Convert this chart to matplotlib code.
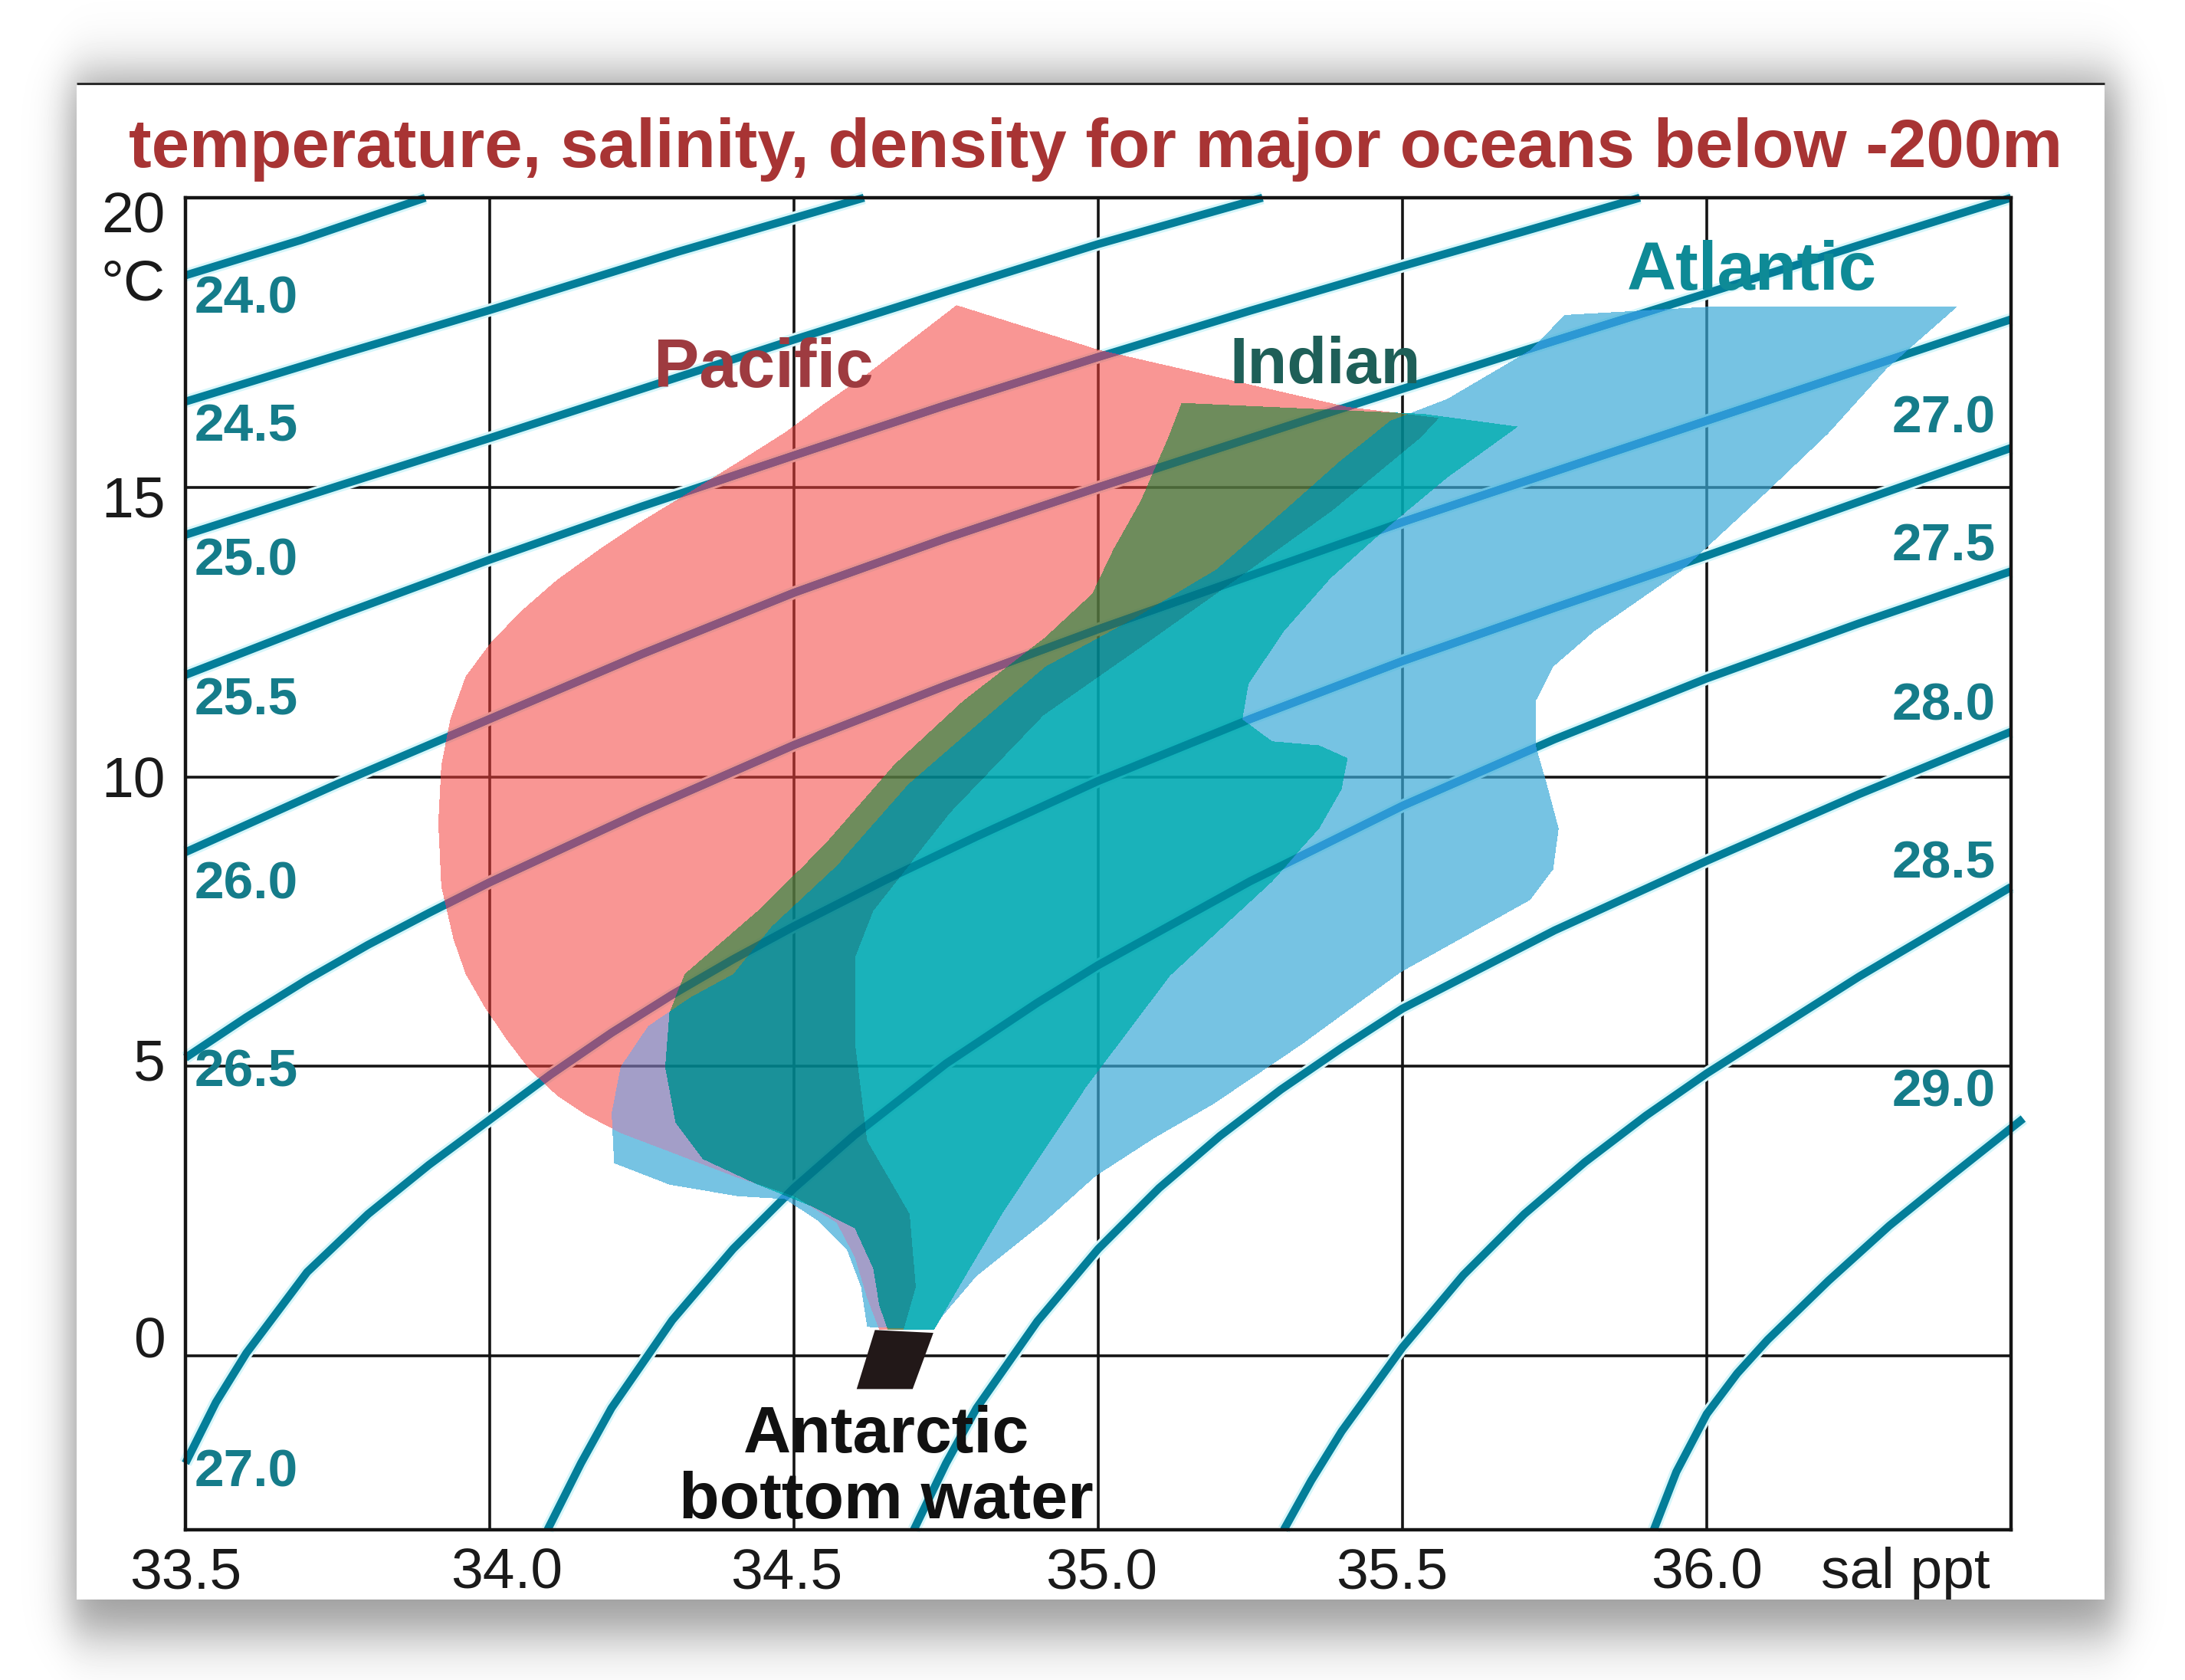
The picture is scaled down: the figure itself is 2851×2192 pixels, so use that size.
import numpy as np
import matplotlib
matplotlib.use('Agg')
import matplotlib.pyplot as plt
from matplotlib.path import Path
from matplotlib.patches import Rectangle, Polygon
import matplotlib.patheffects as pe

plt.rcParams['font.family'] = ['Liberation Sans', 'DejaVu Sans']

# ---------------- data ----------------
sal_ticks = [33.5, 34.0, 34.5, 35.0, 35.5, 36.0]
sal_labels = ['33.5', '34.0', '34.5', '35.0', '35.5', '36.0']
temp_ticks = [0, 5, 10, 15, 20]
temp_labels = ['0', '5', '10', '15', '20']

# isopycnals (sigma-t): salinity / temperature along each curve
s_240 = [33.5, 33.69, 33.894]
t_240 = [18.66, 19.27, 20.0]
s_245 = [33.5, 33.75, 34.0, 34.307, 34.615]
t_245 = [16.48, 17.28, 18.06, 19.06, 20.0]
s_250 = [33.5, 33.75, 34.0, 34.25, 34.5, 34.75, 35.0, 35.27]
t_250 = [14.18, 15.02, 15.85, 16.7, 17.55, 18.38, 19.2, 20.0]
s_255 = [33.5, 33.75, 34.0, 34.25, 34.5, 34.75, 35.0, 35.25, 35.5, 35.7, 35.89]
t_255 = [11.76, 12.78, 13.75, 14.67, 15.55, 16.42, 17.25, 18.05, 18.82, 19.42, 20.0]
s_260 = [33.5, 33.75, 34.0, 34.25, 34.5, 34.75, 35.0, 35.25, 35.5, 35.75, 36.0, 36.25, 36.5]
t_260 = [8.7, 9.88, 11.0, 12.12, 13.18, 14.12, 15.0, 15.85, 16.7, 17.53, 18.35, 19.18, 20.0]
s_265 = [33.5, 33.6, 33.7, 33.8, 33.9, 34.0, 34.25, 34.5, 34.75, 35.0, 35.5, 36.0, 36.5]
t_265 = [5.15, 5.85, 6.5, 7.1, 7.65, 8.18, 9.4, 10.55, 11.58, 12.55, 14.4, 16.15, 17.9]
s_270 = [33.5, 33.55, 33.6, 33.7, 33.8, 33.9, 34.0, 34.1, 34.2, 34.3, 34.4,
         34.5, 34.65, 34.8, 35.0, 35.25, 35.5, 35.75, 36.0, 36.25, 36.5]
t_270 = [-1.85, -0.8, 0.05, 1.45, 2.45, 3.3, 4.08, 4.86, 5.58, 6.24, 6.85,
         7.42, 8.22, 8.97, 9.93, 11.0, 12.0, 12.92, 13.82, 14.75, 15.68]
s_275 = [34.095, 34.15, 34.2, 34.3, 34.4, 34.5, 34.6, 34.75, 34.9, 35.0,
         35.25, 35.5, 35.75, 36.0, 36.25, 36.5]
t_275 = [-3.0, -1.85, -0.9, 0.62, 1.85, 2.9, 3.82, 5.05, 6.1, 6.75,
         8.2, 9.5, 10.65, 11.7, 12.65, 13.55]
s_280 = [34.697, 34.75, 34.8, 34.9, 35.0, 35.1, 35.2, 35.3, 35.4, 35.5, 35.75, 36.0, 36.25, 36.5]
t_280 = [-3.0, -1.85, -0.9, 0.6, 1.85, 2.9, 3.8, 4.6, 5.32, 6.0, 7.35, 8.55, 9.7, 10.78]
s_285 = [35.305, 35.35, 35.4, 35.5, 35.6, 35.7, 35.8, 35.9, 36.0, 36.25, 36.5]
t_285 = [-3.0, -2.15, -1.3, 0.15, 1.4, 2.45, 3.35, 4.15, 4.88, 6.55, 8.1]
s_290 = [35.913, 35.95, 36.0, 36.05, 36.1, 36.2, 36.3, 36.4, 36.52]
t_290 = [-3.0, -2.0, -1.0, -0.3, 0.28, 1.3, 2.25, 3.1, 4.1]

left_sigma = ['24.0', '24.5', '25.0', '25.5', '26.0', '26.5', '27.0']
left_sigma_t = [18.24, 16.03, 13.72, 11.31, 8.14, 4.89, -2.01]
right_sigma = ['27.0', '27.5', '28.0', '28.5', '29.0']
right_sigma_t = [16.18, 13.97, 11.22, 8.5, 4.55]

# water-mass envelopes (salinity, temperature)
pacific_s = [34.767, 35.0, 35.41, 35.56, 35.53, 35.385, 35.25, 35.08, 34.91, 34.756,
             34.63, 34.6, 34.6, 34.62, 34.69, 34.70, 34.68, 34.64, 34.62, 34.6,
             34.57, 34.5, 34.407, 34.295, 34.215, 34.157, 34.11, 34.065, 34.025, 33.99,
             33.96, 33.94, 33.92, 33.915, 33.92, 33.935, 33.96, 34.0, 34.05, 34.11,
             34.18, 34.25, 34.33, 34.41, 34.485, 34.55, 34.62]
pacific_t = [18.15, 17.38, 16.39, 16.2, 15.86, 14.6, 13.58, 12.31, 11.06, 9.37,
             7.69, 6.88, 5.42, 3.72, 2.45, 1.19, 0.45, 0.45, 1.0, 1.7,
             2.3, 2.76, 3.08, 3.53, 3.85, 4.17, 4.5, 4.95, 5.5, 6.05,
             6.6, 7.2, 8.11, 9.2, 10.2, 11.0, 11.73, 12.3, 12.85, 13.4,
             13.93, 14.42, 14.93, 15.45, 15.95, 16.45, 16.96]

indian_s = [35.137, 35.535, 35.69, 35.574, 35.479, 35.382, 35.305, 35.247, 35.237, 35.286,
            35.363, 35.41, 35.40, 35.363, 35.286, 35.118, 34.981, 34.844, 34.776, 34.73,
            34.654, 34.64, 34.63, 34.6, 34.53, 34.44, 34.35, 34.305, 34.288, 34.295,
            34.32, 34.44, 34.553, 34.665, 34.778, 34.913, 34.99, 35.025, 35.07, 35.115]
indian_t = [16.46, 16.27, 16.05, 15.17, 14.34, 13.43, 12.51, 11.6, 10.99, 10.61,
            10.54, 10.32, 9.78, 9.1, 8.2, 6.57, 4.66, 2.49, 1.28, 0.45,
            0.45, 0.87, 1.51, 2.2, 2.58, 2.96, 3.4, 4.03, 4.99, 5.93,
            6.6, 7.69, 8.86, 10.21, 11.31, 12.41, 13.16, 13.93, 14.77, 15.86]

atlantic_s = [35.767, 36.0, 36.413, 36.297, 36.2, 36.094, 35.96, 35.815, 35.748, 35.719,
              35.719, 35.738, 35.757, 35.748, 35.71, 35.497, 35.334, 35.189, 35.093, 34.996,
              34.913, 34.8, 34.744, 34.73, 34.62, 34.61, 34.587, 34.54, 34.485, 34.407,
              34.295, 34.204, 34.2, 34.215, 34.26, 34.33, 34.4, 34.463, 34.575, 34.688,
              34.8, 34.913, 35.06, 35.194, 35.306, 35.397, 35.48, 35.574, 35.71]
atlantic_t = [17.98, 18.12, 18.13, 17.06, 15.93, 14.87, 13.57, 12.51, 11.9, 11.3,
              10.54, 9.85, 9.1, 8.41, 7.88, 6.63, 5.38, 4.35, 3.77, 3.11,
              2.33, 1.38, 0.69, 0.45, 0.5, 1.19, 1.83, 2.33, 2.71, 2.76,
              2.96, 3.33, 4.2, 5.0, 5.7, 6.2, 6.6, 7.42, 8.52, 9.87,
              10.89, 11.9, 12.74, 13.58, 14.6, 15.45, 16.15, 16.53, 17.37]

aabw_s = [34.633, 34.729, 34.695, 34.603]
aabw_t = [0.45, 0.40, -0.57, -0.57]

curves = [(s_240, t_240), (s_245, t_245), (s_250, t_250), (s_255, t_255),
          (s_260, t_260), (s_265, t_265), (s_270, t_270), (s_275, t_275),
          (s_280, t_280), (s_285, t_285), (s_290, t_290)]

ISO = '#037E99'
ISO_UNDER = '#0B6FCC'
ISO_TXT = '#157C8A'
TICK_C = '#1a1a1a'

# ---------------- figure, shadow and card ----------------
W, H = 2851, 2192
fig = plt.figure(figsize=(W / 100, H / 100), dpi=100)
fig.patch.set_facecolor('white')

bg = fig.add_axes([0, 0, 1, 1])
bg.set_xlim(0, W)
bg.set_ylim(H, 0)
bg.axis('off')
yy = np.arange(H)[:, None] + 0.5
xx = np.arange(W)[None, :] + 0.5


def soft(v, a, b, w):
    return 0.5 * (np.tanh((v - a) / w) - np.tanh((v - b) / w))


shadow = soft(xx, 92, 2764, 28) * soft(yy, 98, 2132, 42)
bg.imshow(1 - 0.4 * shadow, cmap='gray', vmin=0, vmax=1, extent=(0, W, H, 0),
          aspect='auto', interpolation='bilinear', zorder=0)
bg.add_patch(Rectangle((100, 109), 2646, 1978, facecolor='white', edgecolor='none', zorder=1))
bg.plot([100, 2746], [109, 109], color='#2b2b2b', lw=2.2, solid_capstyle='butt', zorder=2)

fig.text(0.5015, 1 - 218 / H, 'temperature, salinity, density for major oceans below -200m',
         ha='center', va='baseline', fontsize=64, fontweight='bold', color='#A83434')

# ---------------- main plot ----------------
ax = fig.add_axes([242 / W, 1 - 1996 / H, 2382 / W, (1996 - 258) / H])
ax.set_xlim(33.5, 36.5)
ax.set_ylim(-3, 20)
ax.set_facecolor('none')
ax.set_xticks(sal_ticks)
ax.set_yticks(temp_ticks)
ax.tick_params(length=0, labelbottom=False, labelleft=False)
ax.grid(True, color='#141414', lw=2.6)
ax.set_axisbelow(True)
for sp in ax.spines.values():
    sp.set_linewidth(3.2)
    sp.set_color('#141414')

# tick labels, nudged the way the original has them
for v, lab, dx in zip(sal_ticks, sal_labels, [0, 22, -10, 4, -14, 0]):
    ax.annotate(lab, xy=(v, 0), xycoords=('data', 'axes fraction'),
                xytext=(dx * 0.72, -16), textcoords='offset points',
                ha='center', va='top', fontsize=54, color=TICK_C, annotation_clip=False)
for v, lab, dy in zip(temp_ticks, temp_labels, [25, 9, 0, -12, -18]):
    ax.annotate(lab, xy=(0, v), xycoords=('axes fraction', 'data'),
                xytext=(-19, dy * 0.72), textcoords='offset points',
                ha='right', va='center_baseline', fontsize=54, color=TICK_C,
                annotation_clip=False)

# clip shapes for tinting the lines that run under the water masses
clip_P = Polygon(np.column_stack([pacific_s, pacific_t]), closed=True, transform=ax.transData)
clip_A = Polygon(np.column_stack([atlantic_s, atlantic_t]), closed=True, transform=ax.transData)
clip_I = Polygon(np.column_stack([indian_s, indian_t]), closed=True, transform=ax.transData)

halo = [pe.Stroke(linewidth=12, foreground='#d6f6fa'), pe.Normal()]
for s, t in curves:
    ax.plot(s, t, color=ISO, lw=7.5, solid_capstyle='butt', solid_joinstyle='round',
            zorder=2, clip_on=False, path_effects=halo)
    for cp in (clip_P, clip_A):
        ln, = ax.plot(s, t, color=ISO_UNDER, lw=7.5, solid_joinstyle='round', zorder=2.1)
        ln.set_clip_path(cp)
    ln, = ax.plot(s, t, color='#006C80', lw=7.5, alpha=0.45, solid_joinstyle='round', zorder=3.5)
    ln.set_clip_path(clip_I)

# water masses, overlaps shaded like the original
nx, ny = 2382, 1737
GS, GT = np.meshgrid(np.linspace(33.5, 36.5, nx), np.linspace(-3, 20, ny))
pts = np.column_stack([GS.ravel(), GT.ravel()])


def inside(s, t):
    return Path(np.column_stack([s, t])).contains_points(pts).reshape(ny, nx)


mP = inside(pacific_s, pacific_t)
mI = inside(indian_s, indian_t)
mA = inside(atlantic_s, atlantic_t)
rgba = np.zeros((ny, nx, 4))


def paint(m, rgb, a):
    c = (np.array(rgb) / 255.0 - (1 - a)) / a
    rgba[m] = list(np.clip(c, 0, 1)) + [a]


paint(mP & ~mA & ~mI, (250, 150, 148), 0.55)
paint(mA & ~mP & ~mI, (118, 196, 228), 0.70)
paint(mP & mA & ~mI, (163, 158, 200), 0.70)
paint(mI & ~mP, (22, 178, 186), 0.90)
paint(mI & mP & ~mA, (110, 140, 92), 0.85)
paint(mI & mP & mA, (18, 146, 154), 0.90)
ax.imshow(rgba, extent=(33.5, 36.5, -3, 20), origin='lower', aspect='auto',
          interpolation='nearest', zorder=3)

ax.add_patch(Polygon(np.column_stack([aabw_s, aabw_t]), closed=True,
                     facecolor='#221818', edgecolor='none', zorder=4))

# isopycnal labels
for lab, t in zip(left_sigma, left_sigma_t):
    ax.text(33.515, t, lab, ha='left', va='center', fontsize=50, fontweight='bold',
            color=ISO_TXT, zorder=5)
for lab, t in zip(right_sigma, right_sigma_t):
    ax.text(36.475, t, lab, ha='right', va='center', fontsize=50, fontweight='bold',
            color=ISO_TXT, zorder=5)

# water mass names
ax.text(34.45, 16.73, 'Pacific', ha='center', va='baseline', fontsize=64,
        fontweight='bold', color='#9E3B40', zorder=6)
ax.text(35.373, 16.8, 'Indian', ha='center', va='baseline', fontsize=61,
        fontweight='bold', color='#1E5F58', zorder=6)
ax.text(36.074, 18.41, 'Atlantic', ha='center', va='baseline', fontsize=64,
        fontweight='bold', color='#0E8A96', zorder=6)
ax.text(34.652, -1.67, 'Antarctic', ha='center', va='baseline', fontsize=62,
        fontweight='bold', color='#111111', zorder=6)
ax.text(34.652, -2.80, 'bottom water', ha='center', va='baseline', fontsize=62,
        fontweight='bold', color='#111111', zorder=6)

# axis unit labels
ax.annotate('°C', xy=(0, 18.49), xycoords=('axes fraction', 'data'),
            xytext=(-19, 0), textcoords='offset points', ha='right', va='center',
            fontsize=54, color=TICK_C, annotation_clip=False)
ax.annotate('sal ppt', xy=(36.327, 0), xycoords=('data', 'axes fraction'),
            xytext=(0, -16), textcoords='offset points', ha='center', va='top',
            fontsize=54, color=TICK_C, annotation_clip=False)

fig.savefig('out.png', dpi=100)
